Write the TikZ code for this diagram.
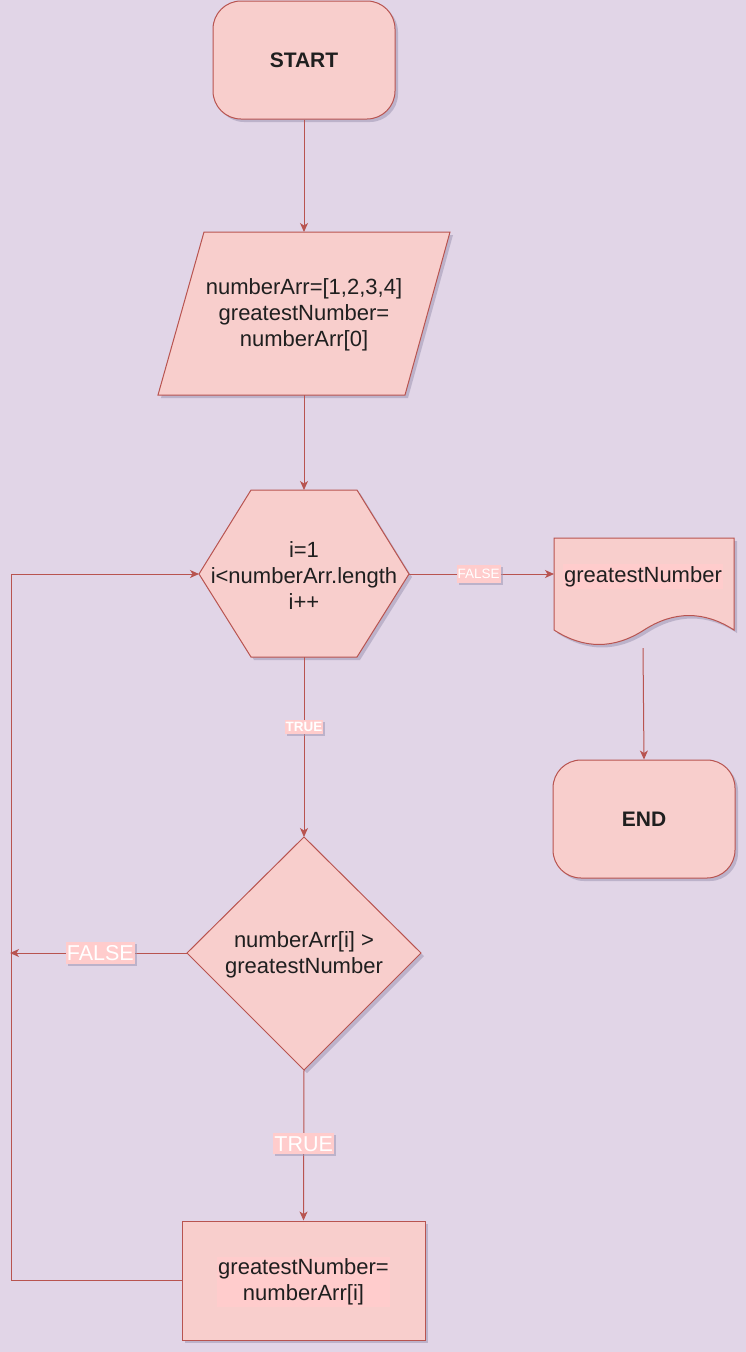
\documentclass[tikz,border=0pt]{standalone}
\usepackage{fontspec}
\setmainfont{Liberation Sans}
\usetikzlibrary{arrows.meta,shadows}
\definecolor{bgc}{HTML}{E1D5E7}
\definecolor{fillc}{HTML}{F8CECC}
\definecolor{strokec}{HTML}{B85450}
\definecolor{lblbg}{HTML}{FFCCCC}
\definecolor{shadowc}{HTML}{9F97B3}
\tikzset{
  shp/.style={draw=strokec, fill=fillc, line width=1pt,
    drop shadow={shadow xshift=3pt, shadow yshift=-3pt, fill=shadowc, opacity=0.55}},
  txt/.style={font=\fontsize{22}{26}\selectfont, align=center, text=black!88, inner sep=0pt},
  txtbg/.style={txt, fill=lblbg, inner xsep=1pt, inner ysep=2pt},
  conn/.style={draw=strokec, line width=1pt, -{Stealth[length=9pt,width=8pt,inset=2.5pt]}},
  lblsmall/.style={fill=lblbg, text=white, font=\fontsize{13.5}{15}\selectfont, inner xsep=1pt, inner ysep=4pt,
    drop shadow={shadow xshift=2pt, shadow yshift=-2pt, fill=shadowc, opacity=0.55}},
  lblbig/.style={fill=lblbg, text=white, font=\fontsize{21.5}{25}\selectfont, inner xsep=1pt, inner ysep=3pt,
    drop shadow={shadow xshift=2pt, shadow yshift=-2pt, fill=shadowc, opacity=0.55}},
  rbox/.style={shp, rounded corners=28pt, minimum width=182pt, minimum height=118pt, inner sep=0pt},
}
\begin{document}
\begin{tikzpicture}[x=1pt,y=-1pt]
\useasboundingbox (0,0) rectangle (746,1352);
\fill[bgc] (0,0) rectangle (746,1352);

% START
\node[rbox, txt, font=\fontsize{21}{26}\selectfont\bfseries] (start) at (304,60) {START};

% input parallelogram
\path[shp] (204,232) -- (450,232) -- (405,395) -- (158,395) -- cycle;
\coordinate (inT) at (304,232);
\coordinate (inB) at (304,395);
\node[txt] (input) at (304,315) {numberArr=[1,2,3,4]\\greatestNumber=\\numberArr[0]};

% hexagon loop
\path[shp] (199,574) -- (251,490) -- (357,490) -- (409,574) -- (357,657) -- (251,657) -- cycle;
\coordinate (hexL) at (199,574);
\coordinate (hexR) at (409,574);
\coordinate (hexT) at (304,490);
\coordinate (hexB) at (304,657);
\node[txt] (loop) at (304,575.5) {i=1\\i<numberArr.length\\i++};

% document output
\path[shp] (554,538) -- (734,538) -- (734,630)
  .. controls (704,610.7) and (674,610.7) .. (644,630)
  .. controls (614,649.3) and (584,649.3) .. (554,630) -- cycle;
\coordinate (docL) at (554,574);
\coordinate (docB) at (643,648);
\node[txtbg] (doc) at (643,576.5) {greatestNumber};

% END
\node[rbox, txt, font=\fontsize{21}{26}\selectfont\bfseries] (end) at (644,819) {END};

% decision diamond
\path[shp] (304,837) -- (421,953) -- (304,1070) -- (187,953) -- cycle;
\coordinate (dT) at (304,837);
\coordinate (dL) at (187,953);
\coordinate (dB) at (304,1070);
\node[txt] (cond) at (304,955) {numberArr[i] >\\greatestNumber};

% process
\node[shp, minimum width=243pt, minimum height=119pt, inner sep=0pt] (proc) at (303.5,1280.5) {};
\node[txtbg] (proctxt) at (303.5,1282) {greatestNumber=\\numberArr[i]};

% loop-back coordinates
\coordinate (loopB) at (11,1280.5);
\coordinate (loopT) at (11,574);
\coordinate (fend) at (10,953);

% connectors
\draw[conn] (start.south) -- (inT);
\draw[conn] (inB) -- (hexT);
\draw[conn] (hexR) -- node[lblsmall, pos=0.48] {FALSE} (docL);
\draw[conn] (hexB) -- node[lblsmall, pos=0.39, inner ysep=2pt, font=\fontsize{13.5}{15}\selectfont\bfseries] {TRUE} (dT);
\draw[conn] (docB) -- (end.north);
\draw[conn] (dL) -- node[lblbig, pos=0.49] {FALSE} (fend);
\draw[conn] (dB) -- node[lblbig, pos=0.49] {TRUE} (proc.north);
\draw[conn] (proc.west) -- (loopB) -- (loopT) -- (hexL);
\end{tikzpicture}
\end{document}
